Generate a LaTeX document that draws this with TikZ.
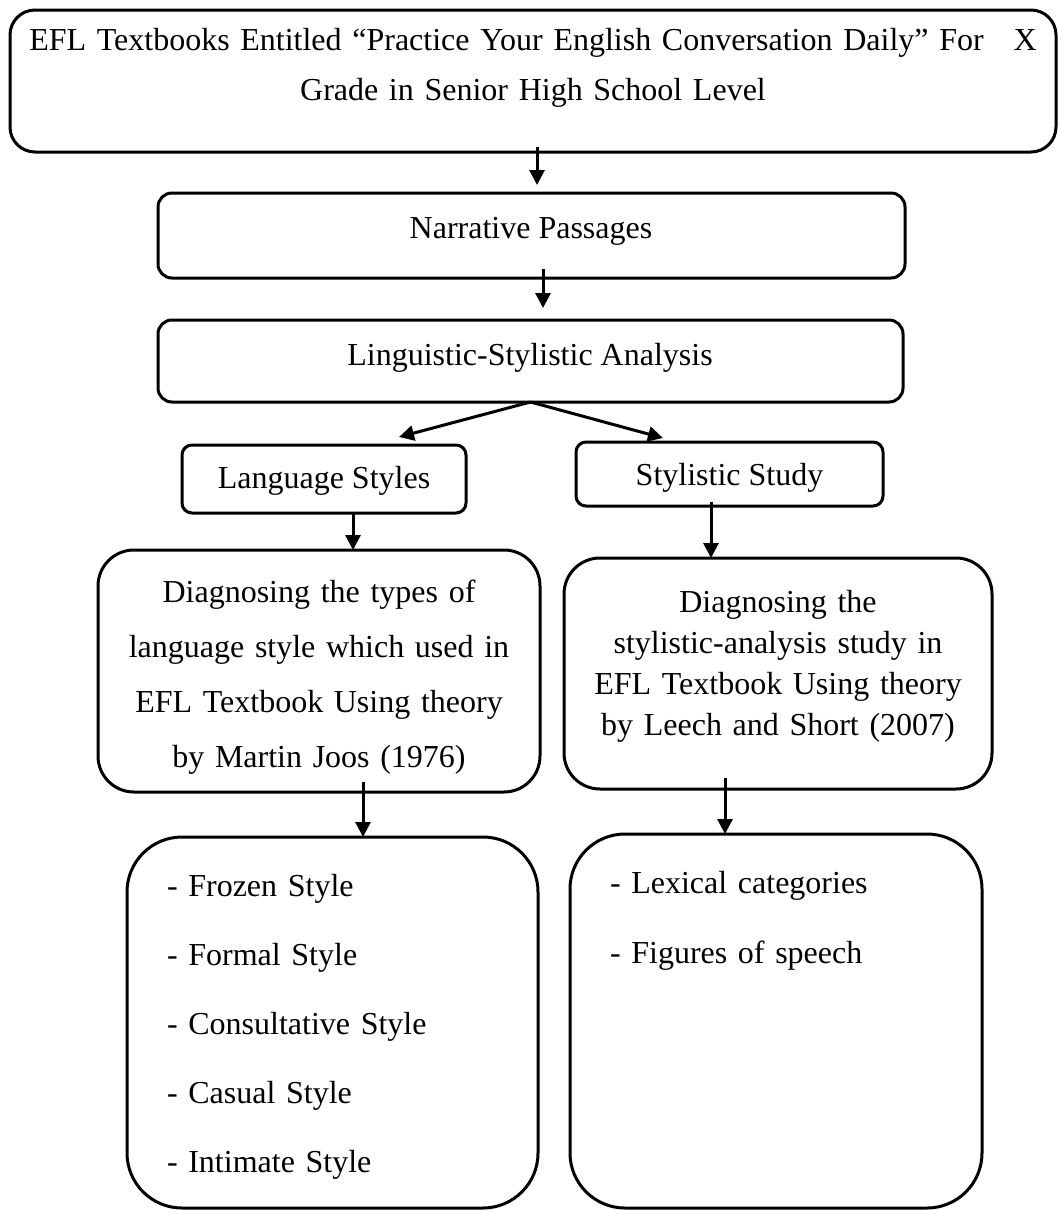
\documentclass[tikz,border=0pt]{standalone}
\usepackage{fontspec}
\setmainfont{Liberation Serif}
\usetikzlibrary{arrows.meta}
\begin{document}
\begin{tikzpicture}[x=1pt,y=-1pt,
  box/.style={draw, line width=3pt, inner sep=0pt, outer sep=0pt, rectangle},
  txt/.style={inner sep=0pt, outer sep=0pt, font=\fontsize{32}{38}\selectfont},
  arr/.style={line width=3pt, -{Triangle[length=15pt,width=15pt]}}]
\useasboundingbox (0,0) rectangle (1058,1210);
% boxes
\node[box, rounded corners=25pt, minimum width=1046pt, minimum height=142pt] (top) at (533,81) {};
\node[box, rounded corners=14pt, minimum width=747pt, minimum height=85pt] (nar) at (531.5,235.5) {};
\node[box, rounded corners=14pt, minimum width=745pt, minimum height=82pt] (lin) at (530.5,361) {};
\node[box, rounded corners=10pt, minimum width=284pt, minimum height=68pt] (ls) at (324,479) {};
\node[box, rounded corners=10pt, minimum width=307pt, minimum height=64pt] (ss) at (729.5,474) {};
\node[box, rounded corners=36pt, minimum width=442pt, minimum height=242pt] (ld) at (319,671) {};
\node[box, rounded corners=36pt, minimum width=428pt, minimum height=231pt] (rd) at (778,673.5) {};
\node[box, rounded corners=55pt, minimum width=411pt, minimum height=371pt] (bl) at (332.5,1022.5) {};
\node[box, rounded corners=55pt, minimum width=412pt, minimum height=374pt] (br) at (776,1021) {};
% texts
\node[txt, anchor=base, text width=1040pt, align=center, font=\fontsize{32}{50}\selectfont] (topt) at (533,50)
  {EFL Textbooks Entitled “Practice Your English Conversation Daily” For\hspace{30pt}X\\Grade in Senior High School Level};
\node[txt, anchor=base] (nart) at (531,238) {Narrative Passages};
\node[txt, anchor=base] (lint) at (530,365) {Linguistic-Stylistic Analysis};
\node[txt, anchor=base] (lst) at (324,488) {Language Styles};
\node[txt, anchor=base] (sst) at (729.5,485) {Stylistic Study};
\node[txt, anchor=base, text width=436pt, align=center, font=\fontsize{32}{55.3}\selectfont] (ldt) at (319,602)
  {Diagnosing the types of\\language style which used in\\EFL Textbook Using theory\\by Martin Joos (1976)};
\node[txt, anchor=base, text width=424pt, align=center, font=\fontsize{32}{41}\selectfont] (rdt) at (778,612)
  {Diagnosing the\\stylistic-analysis study in\\EFL Textbook Using theory\\by Leech and Short (2007)};
\node[txt, anchor=base west, text width=360pt, align=left, font=\fontsize{32}{69}\selectfont] (blt) at (167,896)
  {- Frozen Style\\- Formal Style\\- Consultative Style\\- Casual Style\\- Intimate Style};
\node[txt, anchor=base west, text width=360pt, align=left, font=\fontsize{32}{70}\selectfont] (brt) at (610,893)
  {- Lexical categories\\- Figures of speech};
% arrow x positions
\coordinate (xa1) at (537,0);
\coordinate (xa2) at (543,0);
\coordinate (xls) at (353,0);
\coordinate (xss) at (711,0);
\coordinate (xld) at (363,0);
\coordinate (xrd) at (725,0);
% connectors
\draw[arr, shorten <=-5pt, shorten >=8pt] (top.south -| xa1) -- (nar.north -| xa1);
\draw[arr, shorten <=-9pt, shorten >=12pt] (nar.south -| xa2) -- (lin.north -| xa2);
\draw[arr] (lin.south) -- ([xshift=75pt,yshift=8pt]ls.north);
\draw[arr] (lin.south) -- ([xshift=-66.5pt,yshift=4pt]ss.north);
\draw[arr] (ls.south -| xls) -- (ld.north -| xls);
\draw[arr, shorten <=-4pt] (ss.south -| xss) -- (rd.north -| xss);
\draw[arr, shorten <=-10pt] (ld.south -| xld) -- (bl.north -| xld);
\draw[arr, shorten <=-11pt] (rd.south -| xrd) -- (br.north -| xrd);
\end{tikzpicture}
\end{document}
